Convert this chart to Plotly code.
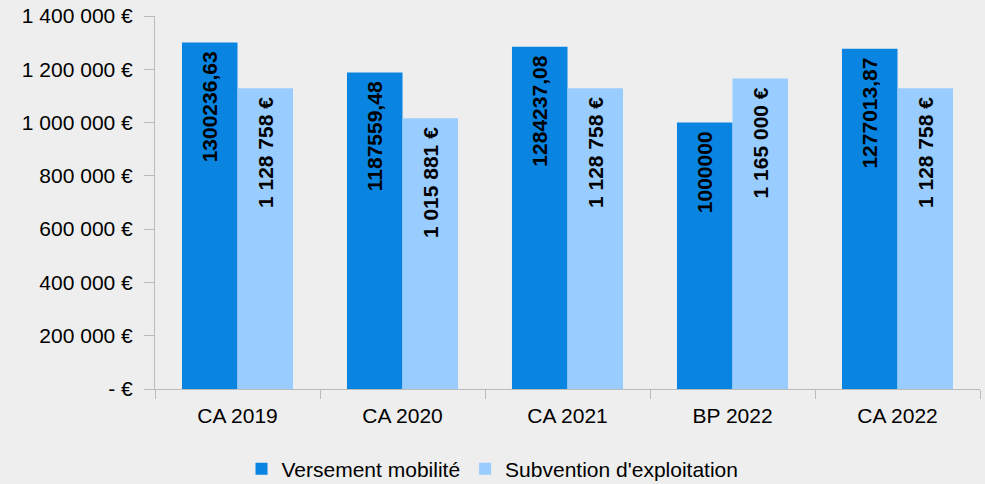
import plotly.graph_objects as go

categories = ["CA 2019", "CA 2020", "CA 2021", "BP 2022", "CA 2022"]
versement = [1300236.63, 1187559.48, 1284237.08, 1000000, 1277013.87]
subvention = [1128758, 1015881, 1128758, 1165000, 1128758]
series_names = ["Versement mobilité", "Subvention d'exploitation"]
ytick_vals = [0, 200000, 400000, 600000, 800000, 1000000, 1200000, 1400000]
ytick_text = ["- €", "200 000 €", "400 000 €", "600 000 €", "800 000 €",
              "1 000 000 €", "1 200 000 €", "1 400 000 €"]


def raw_label(v):
    if float(v).is_integer():
        return str(int(v))
    return f"{v:.2f}".replace(".", ",")


def euro_label(v):
    return f"{int(round(v)):,}".replace(",", " ") + " €"


PAD = "\u00a0"
FONT = "Liberation Sans, Arial, sans-serif"
DARK = "#0984E1"
LIGHT = "#99CCFF"
AXIS = "#BBBBBB"

fig = go.Figure()
fig.add_trace(go.Bar(
    x=categories, y=versement, name=series_names[0],
    marker=dict(color=DARK, line=dict(width=0)),
    text=[raw_label(v) + PAD for v in versement],
    textposition="inside", insidetextanchor="end", textangle=-90,
    textfont=dict(family=FONT, size=21, color="black", weight="bold"),
    constraintext="none", cliponaxis=False, hoverinfo="skip",
))
fig.add_trace(go.Bar(
    x=categories, y=subvention, name=series_names[1],
    marker=dict(color=LIGHT, line=dict(width=0)),
    text=[euro_label(v) + PAD for v in subvention],
    textposition="inside", insidetextanchor="end", textangle=-90,
    textfont=dict(family=FONT, size=21, color="black", weight="bold"),
    constraintext="none", cliponaxis=False, hoverinfo="skip",
))

fig.update_layout(
    width=985, height=484,
    paper_bgcolor="#EEEEEE", plot_bgcolor="#EEEEEE",
    margin=dict(l=155, r=5, t=16, b=95),
    barmode="group", bargap=0.327, bargroupgap=0,
    font=dict(family=FONT, size=21, color="black"),
    showlegend=True,
    legend=dict(
        orientation="h", xref="container", yref="container",
        x=0.5, xanchor="center", y=0.031, yanchor="middle",
        font=dict(family=FONT, size=21, color="black"),
        itemwidth=30, tracegroupgap=0, bgcolor="rgba(0,0,0,0)",
    ),
    xaxis=dict(
        type="category", range=[-0.5, 4.5],
        showline=True, linecolor=AXIS, linewidth=1,
        ticks="outside", ticklen=9, tickcolor=AXIS, tickson="boundaries",
        showgrid=False, zeroline=False, ticklabelstandoff=8,
        tickfont=dict(family=FONT, size=21, color="black"),
    ),
    yaxis=dict(
        range=[0, 1400000],
        tickvals=ytick_vals, ticktext=ytick_text,
        showline=True, linecolor=AXIS, linewidth=1,
        ticks="outside", ticklen=10, tickcolor=AXIS,
        showgrid=False, zeroline=False, ticklabelstandoff=7,
        tickfont=dict(family=FONT, size=21, color="black"),
    ),
)

fig.write_html(
    "out.html",
    config={"displayModeBar": False},
    post_script="document.body.style.margin='0';document.body.style.background='#EEEEEE';",
)
